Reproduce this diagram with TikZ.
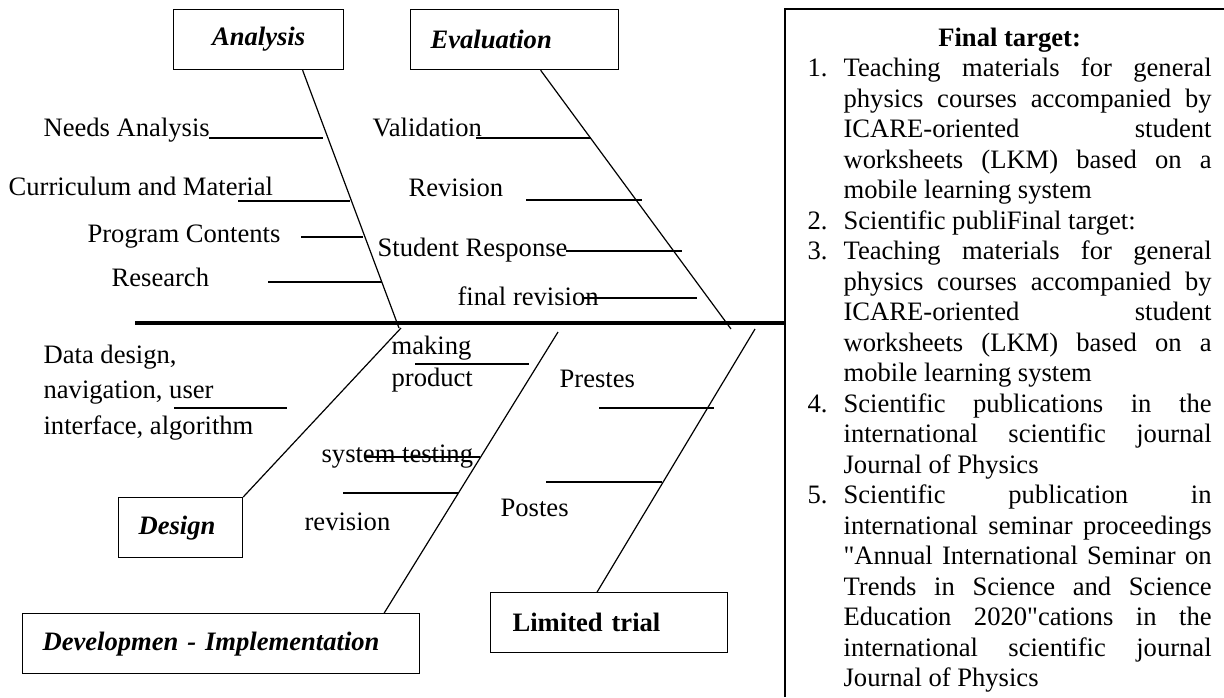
\documentclass[tikz,border=0pt]{standalone}
\usepackage{fontspec}
\setmainfont{Liberation Serif}
\newcommand{\itemln}[2]{\makebox[18pt][l]{#1}\makebox[184pt][s]{#2}}
\newcommand{\fullln}[1]{\hspace*{18pt}\makebox[184pt][s]{#1}}
\newcommand{\lastln}[1]{\hspace*{18pt}#1}
% straight double quote, kept out of the tex-text mapping
\newcommand{\dq}{\XeTeXglyph\XeTeXcharglyph"22\relax}

\begin{document}
\begin{tikzpicture}[x=0.5pt, y=-0.5pt, line width=0.6pt,
    every node/.style={font=\fontsize{13.3}{15.25}\selectfont, inner sep=0pt},
    catbox/.style={draw, anchor=north west, minimum height=30pt, inner xsep=10pt, align=left},
    label/.style={anchor=base west}]
    \useasboundingbox (0,0) rectangle (1224,697);

    % category boxes
    \node[catbox, text width=65pt, align=center] (analysis) at (173,9) {\bfseries\itshape Analysis};
    \node[catbox, text width=84pt] (evaluation) at (410,9) {\bfseries\itshape Evaluation};
    \node[catbox, text width=42pt] (design) at (118,497) {\bfseries\itshape Design};
    \node[catbox, text width=178.5pt] (develop) at (22,613) {\bfseries\itshape Developmen - Implementation};
    \node[catbox, inner xsep=11pt, text width=96.5pt] (limited) at (490,592) {\bfseries Limited trial};

    % spine
    \coordinate (tail) at (135,323);
    \coordinate (head) at (785,323);
    \coordinate (analysis-end) at (399,328);
    \coordinate (evaluation-end) at (731,329);
    \coordinate (design-end) at (401,328);
    \coordinate (develop-end) at (558,332);
    \coordinate (limited-end) at (755,329);
    \draw[line width=2pt] (tail) -- (head);

    \draw ([xshift=22pt]analysis.south) -- (analysis-end);
    \draw ([xshift=13pt]evaluation.south) -- (evaluation-end);
    \draw (design.north east) -- (design-end);
    \draw ([xshift=-18pt]develop.north east) -- (develop-end);
    \draw ([xshift=-6pt]limited.north) -- (limited-end);

    % analysis
    \node[label] (needs) at (43,136) {Needs Analysis};
    \node[label] (curriculum) at (8,195) {Curriculum and Material};
    \node[label] (program) at (87,242) {Program Contents};
    \node[label] (research) at (111,286) {Research};
    \draw (209,138) -- (323,138);
    \draw (238,201) -- (350,201);
    \draw (301,237) -- (363,237);
    \draw (268,282) -- (382,282);

    % evaluation
    \node[label] (validation) at (372,136) {Validation};
    \node[label] (revision) at (408,196) {Revision};
    \node[label] (response) at (377,256) {Student Response};
    \node[label] (final) at (457,305) {final revision};
    \draw (476,138) -- (591,138);
    \draw (526,200) -- (642,200);
    \draw (566,251) -- (682,251);
    \draw (583,298) -- (697,298);

    % design
    \node[anchor=north west, align=left, font=\fontsize{13.3}{17.75}\selectfont] (datadesign) at (43,344)
        {Data design,\\navigation, user\\interface, algorithm};
    \draw (174,408) -- (287,408);

    % development - implementation
    \node[anchor=north west, align=left, font=\fontsize{13.3}{16}\selectfont] (making) at (391,335)
        {making\\product};
    \node[label] (testing) at (321,462) {system testing};
    \node[label] (devrevision) at (304,530) {revision};
    \draw (415,364) -- (529,364);
    \draw (365,457) -- (480,457);
    \draw (343,493) -- (458,493);

    % limited trial
    \node[label] (prestes) at (559,387) {Prestes};
    \node[label] (postes) at (500,516) {Postes};
    \draw (599,408) -- (714,408);
    \draw (546,482) -- (662,482);

    % final target
    \draw[line width=0.75pt] (785,697) |- (1224,9);
    \node[anchor=north west, align=left] (target) at (807,27) {%
        \makebox[202pt]{\bfseries Final target:}\\
        \itemln{1.}{Teaching materials for general}\\
        \fullln{physics courses accompanied by}\\
        \fullln{ICARE-oriented student}\\
        \fullln{worksheets (LKM) based on a}\\
        \lastln{mobile learning system}\\
        \makebox[18pt][l]{2.}Scientific publiFinal target:\\
        \itemln{3.}{Teaching materials for general}\\
        \fullln{physics courses accompanied by}\\
        \fullln{ICARE-oriented student}\\
        \fullln{worksheets (LKM) based on a}\\
        \lastln{mobile learning system}\\
        \itemln{4.}{Scientific publications in the}\\
        \fullln{international scientific journal}\\
        \lastln{Journal of Physics}\\
        \itemln{5.}{Scientific publication in}\\
        \fullln{international seminar proceedings}\\
        \fullln{\dq Annual International Seminar on}\\
        \fullln{Trends in Science and Science}\\
        \fullln{Education 2020\dq cations in the}\\
        \fullln{international scientific journal}\\
        \lastln{Journal of Physics}};
\end{tikzpicture}
\end{document}
